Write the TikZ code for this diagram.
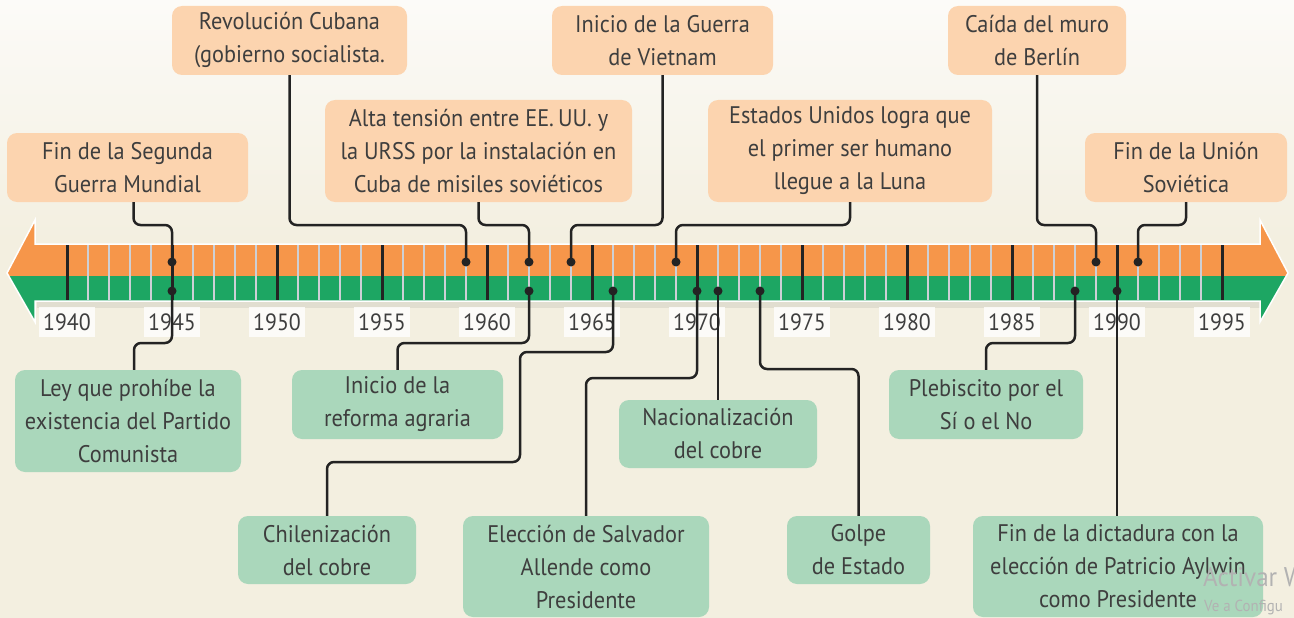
\documentclass[tikz,border=0pt]{standalone}
\usepackage{fontspec}
\setmainfont{PT Sans}[FakeStretch=0.93]
\definecolor{bg}{RGB}{243,239,224}
\definecolor{bgtop}{RGB}{252,251,248}
\definecolor{orA}{RGB}{246,150,74}
\definecolor{grA}{RGB}{29,166,99}
\definecolor{orBox}{RGB}{252,212,175}
\definecolor{grBox}{RGB}{170,215,187}
\definecolor{txt}{RGB}{62,62,62}
\definecolor{minorc}{RGB}{205,208,214}
\definecolor{lin}{RGB}{35,35,35}
\tikzset{
  ev/.style={rounded corners=10pt, inner sep=0pt, align=center, text=txt, font=\fontsize{24}{33}\selectfont},
  evtop/.style={ev, fill=orBox},
  evbot/.style={ev, fill=grBox},
  conn/.style={draw=lin, line width=2.5pt, rounded corners=7pt},
  yr/.style={fill=white, fill opacity=0.8, text opacity=1, text=txt, minimum width=56pt, minimum height=30pt, inner sep=0pt, font=\fontsize{23.5}{23.5}\selectfont},
  evdot/.style={circle, fill=lin, inner sep=0pt, minimum size=9pt},
  wm/.style={text=black!30, inner sep=0pt, anchor=base west},
}
\begin{document}
\begin{tikzpicture}[x=1pt,y=-1pt]
\useasboundingbox (0,0) rectangle (1294,618);
% background
\fill[bg] (0,0) rectangle (1294,618);
\shade[top color=bgtop, bottom color=bg] (0,0) rectangle (1294,240);
% arrow shadow
\fill[black, opacity=0.07] (37,249) -- (1262,249) -- (1262,308) -- (37,308) -- cycle;
% arrow
\begin{scope}
  \clip (35,244) -- (35,220) -- (7,273) -- (35,322) -- (35,301) -- (1260,301) -- (1260,322) -- (1288,273) -- (1260,220) -- (1260,244) -- cycle;
  \fill[orA] (0,200) rectangle (1294,276);
  \fill[grA] (0,276) rectangle (1294,340);
\end{scope}
\draw[white, line width=1.5pt, line join=miter] (35,244) -- (35,220) -- (7,273) -- (35,322) -- (35,301) -- (1260,301) -- (1260,322) -- (1288,273) -- (1260,220) -- (1260,244) -- cycle;
% minor ticks
\foreach \y in {1941,...,1994} {
  \draw[minorc, line width=2pt] ({67+21*(\y-1940)},245) -- ({67+21*(\y-1940)},300);
}
% major ticks and year labels
\foreach \y in {1940,1945,...,1995} {
  \draw[lin, line width=3pt] ({67+21*(\y-1940)},245) -- ({67+21*(\y-1940)},300);
  \node[yr] (y\y) at ({67+21*(\y-1940)},322) {\y};
}
% dots coordinates
\coordinate (hT) at (0,225);
\coordinate (hB) at (0,343);
\coordinate (t45) at (172,262);
\coordinate (t59) at (466,262);
\coordinate (t62) at (529,262);
\coordinate (t64) at (571,262);
\coordinate (t69) at (676,262);
\coordinate (t89) at (1096,262);
\coordinate (t91) at (1138,262);
\coordinate (b45) at (172,291);
\coordinate (b62) at (529,291);
\coordinate (b66) at (613,291);
\coordinate (b70) at (697,291);
\coordinate (b71) at (718,291);
\coordinate (b73) at (760,291);
\coordinate (b88) at (1075,291);
\coordinate (b90) at (1117,291);
\coordinate (chA) at (520,352);
\coordinate (chB) at (520,462);
\coordinate (alA) at (640,378);
\coordinate (goA) at (800,369);
% top events
\node[evtop, minimum width=241pt, minimum height=69pt] (fin45) at (127.5,167.5) {Fin de la Segunda\\Guerra Mundial};
\node[evtop, minimum width=235pt, minimum height=69pt] (cuba) at (289.5,40.5) {Revolución Cubana\\(gobierno socialista.};
\node[evtop, minimum width=307pt, minimum height=102pt] (misiles) at (478.5,151) {Alta tensión entre EE.\,UU. y\\la URSS por la instalación en\\Cuba de misiles soviéticos};
\node[evtop, minimum width=221pt, minimum height=69pt] (vietnam) at (662.5,40.5) {Inicio de la Guerra\\de Vietnam};
\node[evtop, minimum width=284pt, minimum height=102pt] (luna) at (850,151) {Estados Unidos logra que\\el primer ser humano\\llegue a la Luna};
\node[evtop, minimum width=178pt, minimum height=69pt] (berlin) at (1037,40.5) {Caída del muro\\de Berlín};
\node[evtop, minimum width=202pt, minimum height=69pt] (urss) at (1186,167.5) {Fin de la Unión\\Soviética};
% bottom events
\node[evbot, minimum width=226pt, minimum height=102pt] (ley) at (128,421) {Ley que prohíbe la\\existencia del Partido\\Comunista};
\node[evbot, minimum width=211pt, minimum height=69pt] (reforma) at (397.5,404.5) {Inicio de la\\reforma agraria};
\node[evbot, minimum width=178pt, minimum height=68pt] (chile) at (327,550) {Chilenización\\del cobre};
\node[evbot, minimum width=246pt, minimum height=101pt] (allende) at (586,566.5) {Elección de Salvador\\Allende como\\Presidente};
\node[evbot, minimum width=198pt, minimum height=68pt] (nacional) at (718,434) {Nacionalización\\del cobre};
\node[evbot, minimum width=143pt, minimum height=68pt] (golpe) at (858.5,550) {Golpe\\de Estado};
\node[evbot, minimum width=194pt, minimum height=69pt] (plebiscito) at (986,404.5) {Plebiscito por el\\Sí o el No};
\node[evbot, minimum width=290pt, minimum height=101pt] (dictadura) at (1118,566.5) {Fin de la dictadura con la\\elección de Patricio Aylwin\\como Presidente};
% connectors top
\draw[conn] ([xshift=6pt]fin45.south) |- (t45 |- hT) -- (t45);
\draw[conn] (cuba.south) |- (t59 |- hT) -- (t59);
\draw[conn] (misiles.south) |- (t62 |- hT) -- (t62);
\draw[conn] (vietnam.south) |- (t64 |- hT) -- (t64);
\draw[conn] (luna.south) |- (t69 |- hT) -- (t69);
\draw[conn] (berlin.south) |- (t89 |- hT) -- (t89);
\draw[conn] (urss.south) |- (t91 |- hT) -- (t91);
% connectors bottom
\draw[conn] (b45) |- ([xshift=6pt]ley.north |- hB) -- ([xshift=6pt]ley.north);
\draw[conn] (b62) |- (reforma.north |- hB) -- (reforma.north);
\draw[conn] (b66) |- (chA) -- (chB) -| (chile.north);
\draw[conn] (b70) |- (alA) -| (allende.north);
\draw[conn] (b71) -- (b71 |- nacional.north);
\draw[conn] (b73) |- (goA) -| (golpe.north);
\draw[conn] (b88) |- (plebiscito.north |- hB) -- (plebiscito.north);
\draw[conn] (b90) -- (b90 |- dictadura.north);
% dots
\foreach \d in {t45,t59,t62,t64,t69,t89,t91,b45,b62,b66,b70,b71,b73,b88,b90} {
  \node[evdot] (dot\d) at (\d) {};
}
% watermark
\node[wm, font=\fontsize{27}{27}\selectfont] (wm1) at (1203,586) {Activar W};
\node[wm, font=\fontsize{16}{16}\selectfont] (wm2) at (1204,611) {Ve a Configu};
\end{tikzpicture}
\end{document}
